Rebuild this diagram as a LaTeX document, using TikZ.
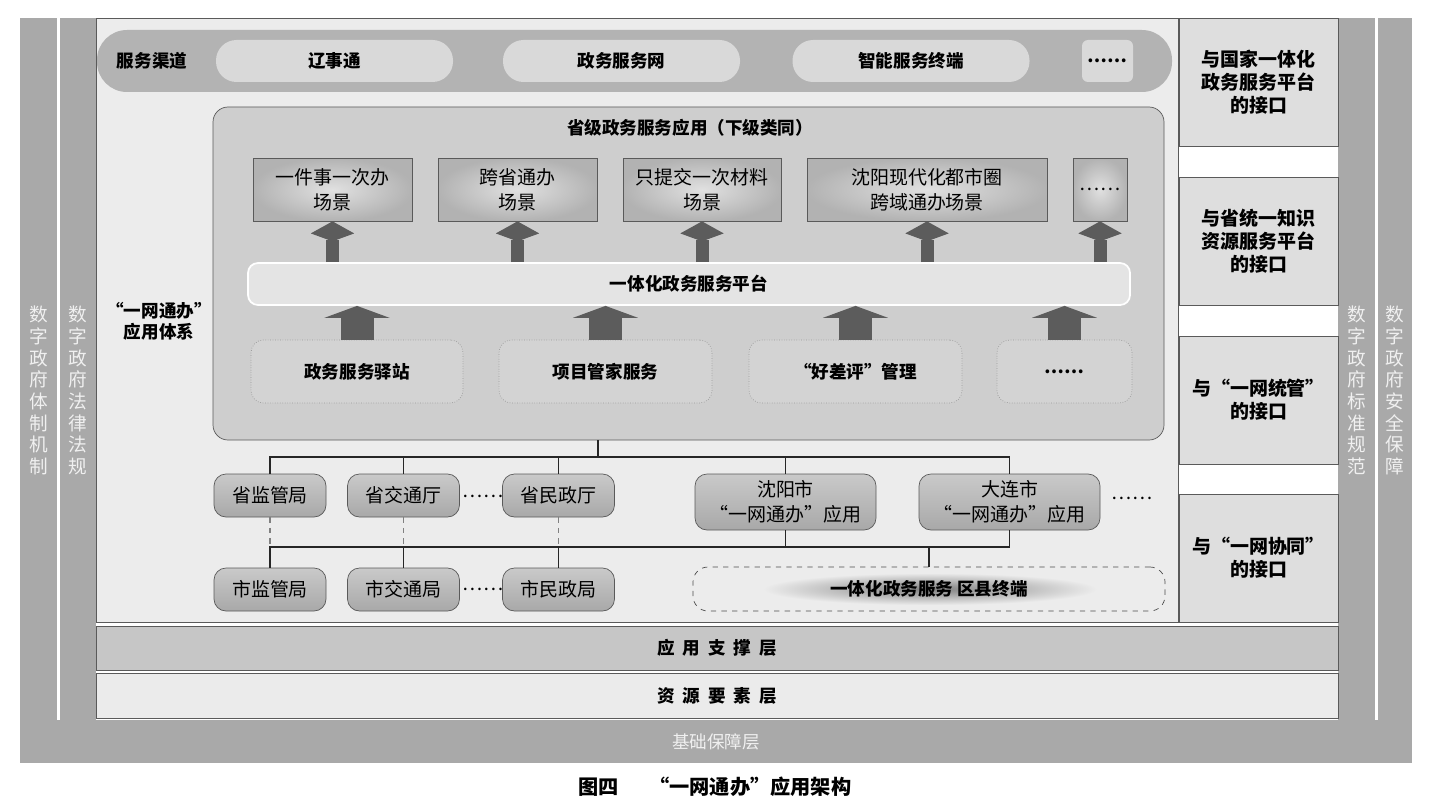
\documentclass[tikz,border=0pt]{standalone}
\usepackage{fontspec}
\setmainfont{Noto Sans CJK SC}
\newfontfamily\spaced{Noto Sans CJK SC}[LetterSpace=45]
\usetikzlibrary{arrows.meta}

\definecolor{bargray}{HTML}{A9A9A9}
\definecolor{framegray}{HTML}{ECECEC}
\definecolor{edgegray}{HTML}{5A5A5A}
\definecolor{arrowgray}{HTML}{5C5C5C}
\definecolor{ifgray}{HTML}{DEDEDE}
\definecolor{bandgray}{HTML}{B3B3B3}
\definecolor{pillgray}{HTML}{D9D9D9}
\definecolor{contgray}{HTML}{CECECE}
\definecolor{platgray}{HTML}{E4E4E4}
\definecolor{svcgray}{HTML}{D3D3D3}
\definecolor{supportgray}{HTML}{C6C6C6}
\definecolor{resgray}{HTML}{EBEBEB}

\tikzset{
  wh/.style 2 args={minimum width=#1*0.02cm, minimum height=#2*0.02cm, inner sep=0pt},
  colbar/.style={fill=bargray, text=white!94!black, align=center, font=\fontsize{10.6}{12.3}\selectfont},
  ifbox/.style={draw=edgegray, fill=ifgray, align=center, font=\bfseries\fontsize{10.8}{13}\selectfont},
  pill/.style={fill=pillgray, rounded corners=0.41cm, font=\bfseries},
  scene/.style={draw=edgegray, inner color=white!88!black, outer color=white!70!black, align=center},
  svc/.style={draw=gray!80, densely dotted, fill=svcgray, rounded corners=0.25cm, font=\bfseries},
  org/.style={draw=edgegray, top color=white!79!black, bottom color=white!66!black, rounded corners=0.24cm, align=center},
  link/.style={draw=black!85, line width=0.8pt},
  upper/.style={arrowgray, line width=0.26cm, -{Stealth[length=0.24cm 0 0, width=0.84cm 0 0, inset=-0.16cm 0]}},
  lower/.style={arrowgray, line width=0.66cm, -{Triangle[length=0.24cm 0 0, width=1.3cm 0 0]}},
}

\begin{document}
\begin{tikzpicture}[x=0.02cm, y=-0.02cm, font=\fontsize{10.8}{14}\selectfont]
\useasboundingbox (0,0) rectangle (1429,811);

% Side bars
\foreach \name/\x/\w/\txt in {mech/38.5/37/{数\\字\\政\\府\\体\\制\\机\\制}, law/78/36/{数\\字\\政\\府\\法\\律\\法\\规}, std/1356.5/37/{数\\字\\政\\府\\标\\准\\规\\范}, safe/1395/34/{数\\字\\政\\府\\安\\全\\保\\障}}
  \node[colbar, wh={\w}{745}] (\name) at (\x,390.5) {\txt};
\node[colbar, wh={1392}{43}, font=\fontsize{10}{12}\selectfont] (base) at (716,741.5) {基础保障层};

% Main frame and layers
\node[draw=edgegray, fill=framegray, wh={1082}{604}] (frame) at (637,320) {};
\node[draw=edgegray, fill=supportgray, wh={1242}{44}, font=\spaced\bfseries] (support) at (717,648) {应用支撑层};
\node[draw=edgegray, fill=resgray, wh={1242}{45}, font=\spaced\bfseries] (resource) at (717,695.5) {资源要素层};

% Interfaces
\foreach \name/\y/\txt in {if1/82/{与国家一体化\\政务服务平台\\的接口}, if2/241/{与省统一知识\\资源服务平台\\的接口}, if3/400/{与“一网统管”\\的接口}, if4/558/{与“一网协同”\\的接口}}
  \node[ifbox, wh={159}{128}] (\name) at (1258.5,\y) {\txt};

% Service channels
\node[fill=bandgray, rounded corners=0.6cm, wh={1075}{62}] (channel) at (634.5,61) {};
\node[font=\bfseries] (chlabel) at (152,61) {服务渠道};
\foreach \name/\x/\txt in {lst/334.5/辽事通, web/621.5/政务服务网, kiosk/911/智能服务终端}
  \node[pill, wh={237}{42}] (\name) at (\x,61) {\txt};
\node[pill, rounded corners=0.12cm, wh={51}{42}] (chmore) at (1107.5,61) {……};

% Provincial applications
\node[draw=edgegray, fill=contgray, rounded corners=0.3cm, wh={951}{333}] (prov) at (688.5,273.5) {};
\node[font=\bfseries] (provtitle) at (690,128) {省级政务服务应用（下级类同）};
\node[font=\bfseries, align=center] (sys) at (159,321) {“一网通办”\\应用体系};

\foreach \name/\x/\w/\txt in {s1/332.5/159/{一件事一次办\\场景}, s2/517.5/159/{跨省通办\\场景}, s3/702/158/{只提交一次材料\\场景}, s4/927/240/{沈阳现代化都市圈\\跨域通办场景}, s5/1100/54/{……}}
  \node[scene, wh={\w}{63}] (\name) at (\x,189.5) {\txt};

\node[draw=white, line width=1pt, fill=platgray, rounded corners=0.2cm, wh={882}{42}, font=\bfseries] (plat) at (689,284) {一体化政务服务平台};

\foreach \name/\x/\w/\txt in {b1/357/212/政务服务驿站, b2/605.5/213/项目管家服务, b3/855.5/213/“好差评”管理, b4/1064.5/135/……}
  \node[svc, wh={\w}{63}] (\name) at (\x,371.5) {\txt};

\foreach \s in {s1,s2,s3,s4,s5} \draw[upper] (plat.north -| \s) -- (\s.south);
\foreach \b in {b1,b2,b3,b4} \draw[lower] (\b.north) -- (plat.south -| \b);

% Departments
\foreach \name/\x/\txt in {p1/270/省监管局, p2/403.5/省交通厅, p3/558.5/省民政厅}
  \node[org, wh={112}{43}] (\name) at (\x,495.5) {\txt};
\foreach \name/\x/\txt in {c1/270/市监管局, c2/403.5/市交通局, c3/558.5/市民政局}
  \node[org, wh={112}{43}] (\name) at (\x,589.5) {\txt};
\foreach \name/\x/\txt in {sy/785.5/沈阳市, dl/1009.5/大连市}
  \node[org, wh={181}{56}] (\name) at (\x,502) {\txt\\“一网通办”应用};
\node (pdots) at (483,496) {……};
\node (cdots) at (483,589) {……};
\node (adots) at (1132,498) {……};

\shade[inner color=white!50!black, outer color=framegray] (763,573) rectangle (1097,605);
\node[draw=black!70, dashed, rounded corners=0.3cm, wh={472}{44}, font=\bfseries] (term) at (929,589) {一体化政务服务 区县终端};

% Links
\coordinate (bus1) at (598,457);
\coordinate (bus2) at (929,547);
\draw[link] (prov.south -| bus1) -- (bus1);
\draw[link] (p1.north) |- (bus1) -| (dl.north);
\foreach \n in {p2,p3,sy} \draw[link] (\n.north) -- (\n.north |- bus1);
\draw[link] (c1.north) |- (bus2) -| (dl.south);
\foreach \n in {c2,c3} \draw[link] (\n.north) -- (\n.north |- bus2);
\draw[link] (sy.south) -- (sy.south |- bus2);
\draw[link] (bus2) -- (term.north);
\foreach \n in {p1,p2,p3} \draw[link, dashed, draw=gray] (\n.south) -- (\n.south |- bus2);

\node[font=\bfseries\fontsize{11.5}{14}\selectfont] (caption) at (715,787) {图四\hspace{1.5em}“一网通办”应用架构};
\end{tikzpicture}
\end{document}
